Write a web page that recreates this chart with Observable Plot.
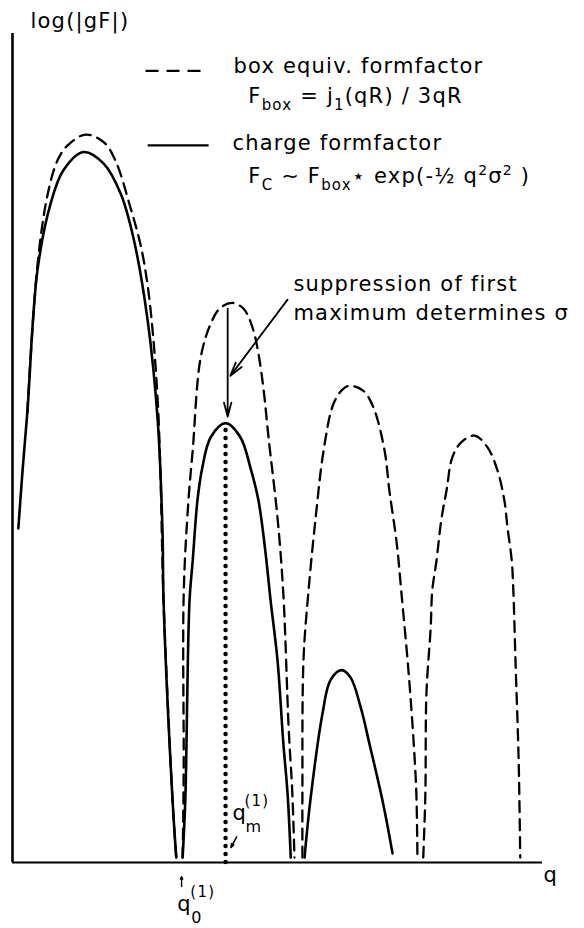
<!DOCTYPE html>
<html><head><meta charset="utf-8">
<script src="https://cdn.jsdelivr.net/npm/d3@7"></script>
<script src="https://cdn.jsdelivr.net/npm/@observablehq/plot@0.6"></script>
<style>body{margin:0;background:#fff;} svg{overflow:visible}</style>
</head><body><div id="chart"></div>
<script>
// q (arbitrary units), log(|gF|) (arbitrary units)
const boxLobe1 = [[0.28,5.43],[0.47,7.20],[0.66,8.05],[0.85,8.47],[1.04,8.65],[1.38,8.78],[1.72,8.69],[1.94,8.47],[2.23,7.89],[2.42,7.44],[2.55,6.96],[2.66,6.30],[2.74,5.57],[2.79,4.73],[2.85,3.16],[3.02,0.75],[3.09,0.06]];
const boxLobe2 = [[3.21,0.06],[3.23,1.11],[3.23,3.24],[3.32,4.37],[3.40,4.97],[3.55,6.09],[3.74,6.50],[3.92,6.69],[4.15,6.75],[4.36,6.68],[4.53,6.45],[4.64,6.14],[4.74,5.69],[4.83,5.13],[5.00,4.16],[5.11,3.24],[5.21,1.63],[5.28,0.83],[5.32,0.06]];
const boxLobe3 = [[5.47,0.06],[5.47,0.83],[5.49,2.44],[5.58,3.24],[5.72,4.16],[5.87,4.97],[6.06,5.54],[6.25,5.72],[6.38,5.75],[6.62,5.69],[6.81,5.49],[7.02,4.97],[7.11,4.49],[7.25,3.85],[7.34,3.24],[7.47,2.32],[7.57,1.44],[7.62,0.83],[7.64,0.06]];
const boxLobe4 = [[7.75,0.06],[7.79,0.83],[7.81,2.04],[7.89,2.83],[7.92,3.28],[8.00,3.64],[8.09,4.13],[8.19,4.49],[8.30,4.89],[8.47,5.07],[8.72,5.15],[8.96,5.01],[9.15,4.73],[9.28,4.37],[9.34,4.04],[9.42,3.64],[9.45,3.28],[9.49,2.44],[9.55,1.23],[9.58,0.06]];

const chargeLobe1 = [[0.11,4.03],[0.19,4.73],[0.28,5.43],[0.47,7.14],[0.72,7.95],[0.96,8.35],[1.34,8.57],[1.72,8.43],[2.04,8.07],[2.28,7.54],[2.55,6.54],[2.74,5.33],[2.83,4.00],[2.85,3.16],[3.02,0.75],[3.09,0.06]];
const chargeLobe2 = [[3.21,0.06],[3.26,0.75],[3.34,3.16],[3.40,3.64],[3.49,4.37],[3.58,4.76],[3.74,5.13],[4.02,5.30],[4.30,5.13],[4.49,4.76],[4.64,4.37],[4.77,3.76],[4.87,3.16],[5.00,2.44],[5.11,1.44],[5.19,0.83],[5.25,0.06]];
const chargeLobe3 = [[5.51,0.06],[5.62,0.75],[5.85,1.80],[6.00,2.20],[6.21,2.32],[6.38,2.23],[6.57,1.87],[6.75,1.39],[6.98,0.75],[7.17,0.11]];

const yLabel = "log(|gF|)";
const xLabel = "q";
const legendBox = ["box equiv. formfactor", "F_{box} = j_{1}(qR) / 3qR"];
const legendCharge = ["charge formfactor", "F_{C} \u223C F_{box}\u22C6 exp(-\u00BD q^{2}\u03C3^{2} )"];
const note = ["suppression of first", "maximum determines \u03C3"];

const toRows = (lobes) => lobes.flatMap((pts, i) => pts.map(([q, L]) => ({q, L, lobe: i})));
const boxData = toRows([boxLobe1, boxLobe2, boxLobe3, boxLobe4]);
const chargeData = toRows([chargeLobe1, chargeLobe2, chargeLobe3]);
const firstMax = chargeLobe2.reduce((a, b) => (b[1] > a[1] ? b : a));

const FS = 21;
const txt = (s, x, y, o = {}) => Plot.text([s], {x: () => x, y: () => y, text: d => d, textAnchor: "start", fontSize: FS, ...o});

const chart = Plot.plot({
  width: 584, height: 928,
  marginLeft: 12, marginRight: 42, marginTop: 33, marginBottom: 66,
  x: {domain: [0, 10], axis: null},
  y: {domain: [0, 10], axis: null},
  style: {fontFamily: "DejaVu Sans", fontSize: "21px", color: "#000", background: "#fff", overflow: "visible"},
  marks: [
    Plot.ruleX([0], {y1: 0, y2: 10, strokeWidth: 2.6}),
    Plot.ruleY([0], {x1: 0, x2: 10, strokeWidth: 1.8}),
    Plot.line(boxData, {x: "q", y: "L", z: "lobe", curve: "catmull-rom", strokeWidth: 2.3, strokeDasharray: "11,7"}),
    Plot.line(chargeData, {x: "q", y: "L", z: "lobe", curve: "catmull-rom", strokeWidth: 2.6}),
    Plot.ruleX([firstMax[0]], {y1: 0, y2: firstMax[1] - 0.05, strokeWidth: 4.5, strokeDasharray: "0,8", strokeLinecap: "round"}),
    Plot.arrow([0], {x1: 4.06, y1: 6.68, x2: 4.06, y2: 5.38, bend: 0, headLength: 12, headAngle: 30, strokeWidth: 1.8}),
    Plot.arrow([0], {x1: 5.19, y1: 6.79, x2: 4.11, y2: 5.87, bend: 0, headLength: 12, headAngle: 30, strokeWidth: 1.8}),
    Plot.arrow([0], {x1: 4.23, y1: 0.31, x2: 4.12, y2: 0.18, bend: 0, headLength: 4, headAngle: 40, strokeWidth: 1.5}),
    Plot.arrow([0], {x1: 3.19, y1: -0.29, x2: 3.19, y2: -0.17, bend: 0, headLength: 3, headAngle: 50, strokeWidth: 1.4}),
    // legend samples
    Plot.link([0], {x1: 2.51, x2: 3.60, y1: 9.55, y2: 9.55, strokeDasharray: "13,8", strokeWidth: 2.3}),
    Plot.link([0], {x1: 2.55, x2: 3.70, y1: 8.65, y2: 8.65, strokeWidth: 2.3}),
    // texts
    txt(yLabel, 0.34, 10.15),
    txt(xLabel, 10.02, -0.16),
    txt(legendBox[0], 4.17, 9.60),
    txt(legendBox[1], 4.45, 9.24),
    txt(legendCharge[0], 4.15, 8.67),
    txt(legendCharge[1], 4.45, 8.28),
    txt(note[0], 5.30, 6.98),
    txt(note[1], 5.30, 6.62),
    txt("q", 3.11, -0.50),
    txt("(1)", 3.11, -0.50, {fontSize: 15, dx: 13, dy: -12}),
    txt("0", 3.11, -0.50, {fontSize: 16, dx: 14, dy: 14}),
    txt("q", 4.15, 0.59),
    txt("(1)", 4.15, 0.59, {fontSize: 15, dx: 12, dy: -12}),
    txt("m", 4.15, 0.59, {fontSize: 16, dx: 13, dy: 13})
  ]
});

const svg = d3.select(chart);
svg.style("letter-spacing", "1.2px");
svg.selectAll("text").each(function() {
  const s = this.textContent;
  if (!/[_^]\{/.test(s)) return;
  this.textContent = "";
  const parts = s.split(/([_^]\{[^}]*\})/);
  let shift = 0;
  for (const p of parts) {
    if (!p) continue;
    let t = p, size = null, target = 0;
    if (p.startsWith("_{")) { t = p.slice(2, -1); target = 7; size = 15; }
    else if (p.startsWith("^{")) { t = p.slice(2, -1); target = -8; size = 14; }
    const ts = d3.select(this).append("tspan").attr("dy", target - shift).text(t);
    if (size) ts.attr("font-size", size);
    shift = target;
  }
});
document.getElementById("chart").append(chart);
</script></body></html>
